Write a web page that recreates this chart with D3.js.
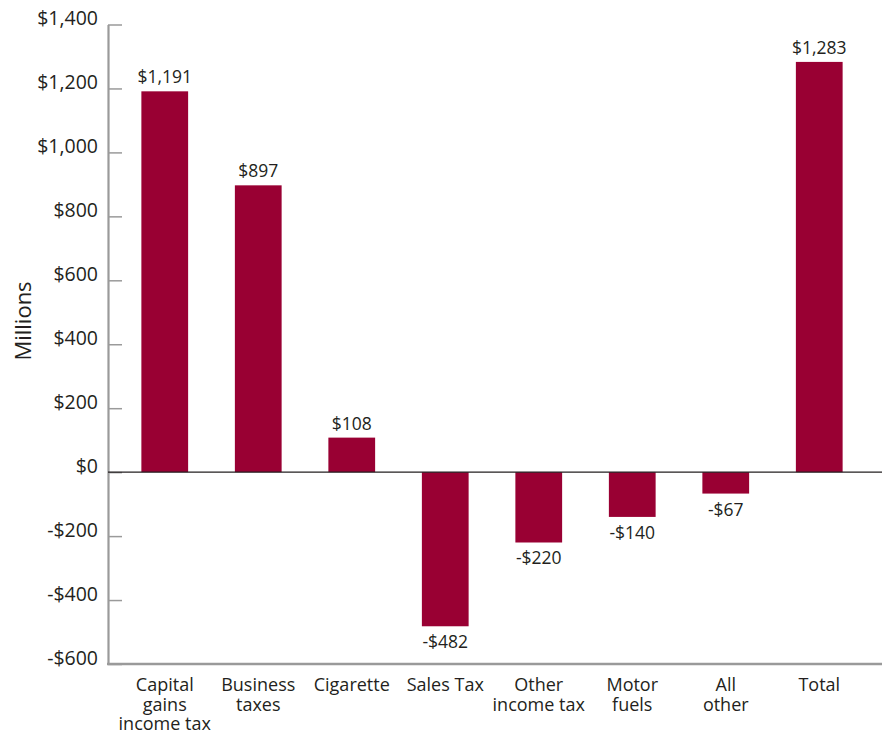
<!DOCTYPE html>
<html>
<head>
<meta charset="utf-8">
<script src="https://cdn.jsdelivr.net/npm/d3@7"></script>
<style>
  html, body { margin: 0; padding: 0; background: #fff; }
  svg { display: block; font-family: "Open Sans", "Noto Sans", sans-serif; }
</style>
</head>
<body>
<div class="main-chart"></div>
<script>
// данные графика
const categories = [
  ['Capital', 'gains', 'income tax'],
  ['Business', 'taxes'],
  ['Cigarette'],
  ['Sales Tax'],
  ['Other', 'income tax'],
  ['Motor', 'fuels'],
  ['All', 'other'],
  ['Total']
];
const values = [1191, 897, 108, -482, -220, -140, -67, 1283];
const yTicks = [-600, -400, -200, 0, 200, 400, 600, 800, 1000, 1200, 1400];

const width = 890, height = 736;
const barColor = '#990033';
const textColor = '#231f20';

const svg = d3.select('.main-chart').append('svg')
  .attr('width', width)
  .attr('height', height);

const keys = categories.map(c => c.join(' '));

const x = d3.scaleBand()
  .domain(keys)
  .range([118, 866])
  .paddingInner(0.5)
  .paddingOuter(0.25);

const y = d3.scaleLinear()
  .domain([-600, 1400])
  .range([664, 24.5]);

const money = d => (d < 0 ? '-' : '') + '$' + d3.format(',')(Math.abs(d));

// ось y: подписи стоят на линии деления
const yAxis = svg.append('g')
  .attr('transform', 'translate(108,0)')
  .call(d3.axisLeft(y).tickValues(yTicks).tickSize(-14).tickSizeOuter(0).tickPadding(10).tickFormat(money))
  .attr('font-family', null)
  .attr('font-size', null);

yAxis.select('.domain').attr('stroke', '#9a9a9a').attr('stroke-width', 2.2);
yAxis.selectAll('.tick line').attr('stroke', '#9a9a9a').attr('stroke-width', 1.5);
yAxis.selectAll('.tick text')
  .attr('dy', '0')
  .attr('fill', textColor)
  .style('font-size', '19.5px');

// нижняя линия
svg.append('line')
  .attr('x1', 107).attr('x2', 882)
  .attr('y1', y(-600)).attr('y2', y(-600))
  .attr('stroke', '#9a9a9a').attr('stroke-width', 2.5);

// бары
svg.selectAll('.bar')
  .data(values)
  .enter().append('rect')
  .attr('class', 'bar')
  .attr('x', (d, i) => x(keys[i]))
  .attr('y', d => y(Math.max(0, d)))
  .attr('width', x.bandwidth())
  .attr('height', d => Math.abs(y(d) - y(0)))
  .attr('fill', barColor);

// нулевая линия
svg.append('line')
  .attr('x1', 108).attr('x2', 882)
  .attr('y1', y(0)).attr('y2', y(0))
  .attr('stroke', textColor).attr('stroke-width', 1.3);

// подписи значений
svg.selectAll('.val')
  .data(values)
  .enter().append('text')
  .attr('class', 'val')
  .attr('x', (d, i) => x(keys[i]) + x.bandwidth() / 2)
  .attr('y', d => d >= 0 ? y(d) - 8 : y(d) + 22)
  .attr('text-anchor', 'middle')
  .attr('fill', textColor)
  .style('font-size', '17.5px')
  .text(money);

// подписи категорий (каждая строка отдельно)
const catLines = [];
categories.forEach((c, i) => c.forEach((line, j) => catLines.push({key: keys[i], line, j})));

svg.selectAll('.cat')
  .data(catLines)
  .enter().append('text')
  .attr('class', 'cat')
  .attr('text-anchor', 'middle')
  .attr('fill', textColor)
  .style('font-size', '18px')
  .attr('x', d => x(d.key) + x.bandwidth() / 2)
  .attr('y', d => 691 + d.j * 19.5)
  .text(d => d.line);

// подпись оси
svg.append('text')
  .attr('transform', 'translate(31,321) rotate(-90)')
  .attr('text-anchor', 'middle')
  .attr('fill', textColor)
  .style('font-size', '22px')
  .text('Millions');
</script>
</body>
</html>
